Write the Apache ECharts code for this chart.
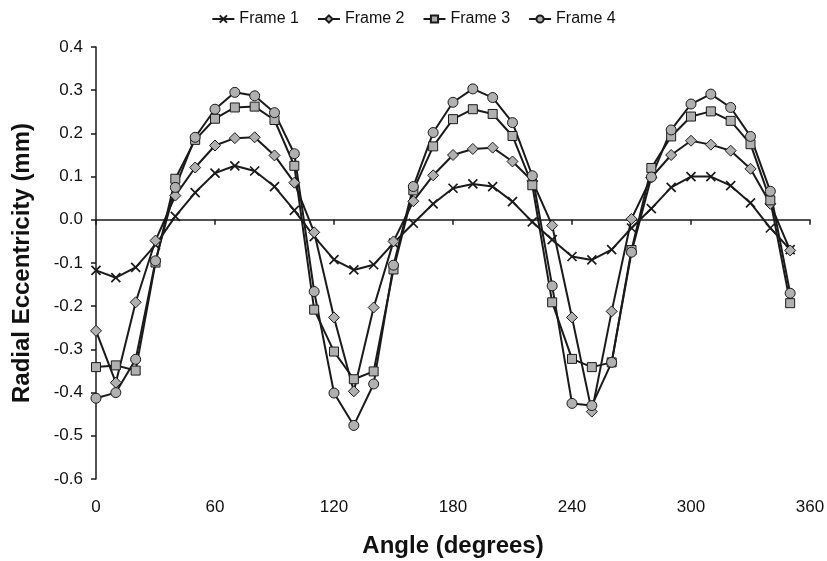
<!DOCTYPE html>
<html>
<head>
<meta charset="utf-8">
<script src="https://cdn.jsdelivr.net/npm/echarts@6/dist/echarts.min.js"></script>
<style>
html,body{margin:0;padding:0;background:#fff;}
#chart{width:827px;height:561px;}
</style>
</head>
<body>
<div id="chart"></div>
<script>
var angles = [0,10,20,30,40,50,60,70,80,90,100,110,120,130,140,150,160,170,180,190,200,210,220,230,240,250,260,270,280,290,300,310,320,330,340,350];
var frame1 = [-0.117,-0.134,-0.110,-0.058,0.008,0.063,0.108,0.125,0.113,0.077,0.022,-0.039,-0.092,-0.116,-0.104,-0.054,-0.008,0.037,0.073,0.083,0.077,0.042,-0.005,-0.046,-0.085,-0.093,-0.069,-0.019,0.026,0.075,0.100,0.100,0.079,0.039,-0.019,-0.069];
var frame2 = [-0.257,-0.377,-0.191,-0.048,0.056,0.121,0.172,0.189,0.191,0.149,0.086,-0.029,-0.226,-0.397,-0.203,-0.050,0.043,0.103,0.150,0.164,0.167,0.135,0.090,-0.013,-0.226,-0.444,-0.212,0.002,0.098,0.150,0.183,0.174,0.160,0.118,0.037,-0.071];
var frame3 = [-0.341,-0.337,-0.349,-0.099,0.095,0.185,0.234,0.260,0.262,0.231,0.125,-0.208,-0.305,-0.369,-0.351,-0.115,0.068,0.170,0.233,0.256,0.245,0.194,0.080,-0.191,-0.322,-0.341,-0.330,-0.070,0.120,0.193,0.239,0.251,0.229,0.175,0.045,-0.193];
var frame4 = [-0.413,-0.400,-0.323,-0.095,0.075,0.191,0.256,0.295,0.287,0.248,0.153,-0.166,-0.401,-0.476,-0.380,-0.105,0.077,0.202,0.272,0.303,0.283,0.225,0.102,-0.153,-0.425,-0.430,-0.330,-0.075,0.099,0.208,0.268,0.291,0.260,0.193,0.066,-0.170];
var seriesNames = ['Frame 1','Frame 2','Frame 3','Frame 4'];
var xTicks = {min:0, max:360, interval:60};
var yTicks = {min:-0.6, max:0.4, interval:0.1};

function pairs(vals){ return angles.map(function(a,i){ return [a, vals[i]]; }); }

var FONT = '"Liberation Sans", Arial, sans-serif';
var LINE = '#1a1a1a';
var FILL = '#b0b0b0';

function mkSeries(name, vals, symbol, size, isCross){
  return {
    name: name, type: 'line', xAxisIndex: 0, yAxisIndex: 0,
    data: pairs(vals), symbol: symbol, symbolSize: size, showSymbol: true,
    lineStyle: {color: LINE, width: 2},
    itemStyle: isCross ? {color: 'rgba(0,0,0,0)', borderColor: LINE, borderWidth: 1.7}
                       : {color: FILL, borderColor: LINE, borderWidth: 1},
    emphasis: {disabled: true},
    animation: false
  };
}

var chart = echarts.init(document.getElementById('chart'), null, {renderer: 'canvas'});
chart.setOption({
  backgroundColor: '#fff',
  animation: false,
  legend: {
    top: 6, left: 'center',
    itemWidth: 22, itemHeight: 9, itemGap: 18,
    textStyle: {fontFamily: FONT, fontSize: 16, color: '#111'},
    data: seriesNames
  },
  grid: {left: 96, right: 17, top: 47, bottom: 82, containLabel: false, outerBoundsMode: 'none'},
  xAxis: [{
    type: 'value', min: xTicks.min, max: xTicks.max, interval: xTicks.interval,
    position: 'bottom',
    axisLine: {show: false, onZero: false},
    axisTick: {show: false},
    splitLine: {show: false},
    axisLabel: {margin: 20, fontFamily: FONT, fontSize: 17, color: '#111'},
    name: 'Angle (degrees)', nameLocation: 'middle', nameGap: 55,
    nameTextStyle: {fontFamily: FONT, fontSize: 24, fontWeight: 'bold', color: '#111'}
  },{
    type: 'value', min: xTicks.min, max: xTicks.max, interval: xTicks.interval,
    position: 'bottom',
    axisLine: {show: true, onZero: true, lineStyle: {color: LINE, width: 1.5}},
    axisTick: {show: true, inside: false, length: 5, lineStyle: {color: LINE, width: 1.5}},
    splitLine: {show: false},
    axisLabel: {show: false}
  }],
  yAxis: {
    type: 'value', min: yTicks.min, max: yTicks.max, interval: yTicks.interval,
    axisLine: {show: true, onZero: false, lineStyle: {color: LINE, width: 1.5}},
    axisTick: {show: true, inside: false, length: 5, lineStyle: {color: LINE, width: 1.5}},
    splitLine: {show: false},
    axisLabel: {margin: 13, fontFamily: FONT, fontSize: 17, color: '#111',
      formatter: function(v){ return (Math.round(v*10)/10).toFixed(1); }},
    name: 'Radial Eccentricity (mm)', nameLocation: 'middle', nameGap: 62,
    nameTextStyle: {fontFamily: FONT, fontSize: 24, fontWeight: 'bold', color: '#111'}
  },
  series: [
    mkSeries('Frame 1', frame1, 'path://M0,0L10,10M10,0L0,10', 9, true),
    mkSeries('Frame 2', frame2, 'diamond', 11, false),
    mkSeries('Frame 3', frame3, 'rect', 9, false),
    mkSeries('Frame 4', frame4, 'circle', 10, false)
  ]
});
</script>
</body>
</html>
